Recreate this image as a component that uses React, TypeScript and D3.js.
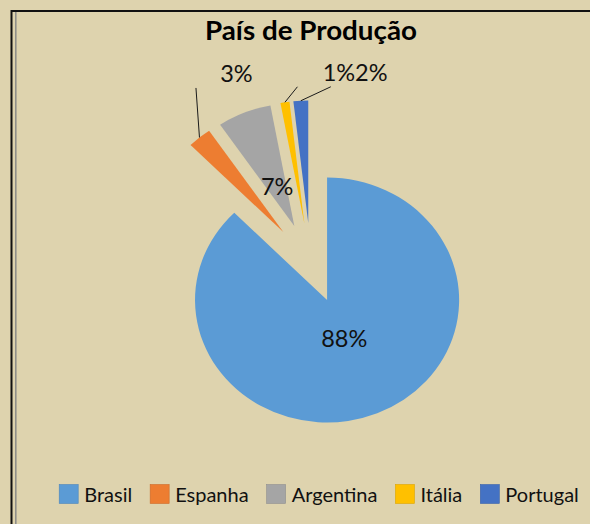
import React, { useEffect, useRef } from 'react';
import * as d3 from 'd3';

const title = 'País de Produção';
const categories = ['Brasil', 'Espanha', 'Argentina', 'Itália', 'Portugal'];
const shares = [87.6, 2.9, 6.6, 1.1, 1.8];
const colors = ['#5b9bd5', '#ed7d31', '#a5a5a5', '#ffc000', '#4472c4'];

// labels that were dragged out of the pie, with a leader line
// [leader end dx, dy, label dx, baseline dy] from the slice's outer edge midpoint
const outsideLabels: Record<string, number[]> = {
  Espanha: [-3.5, -49.5, 37, -55.5],
  'Itália': [12.5, -15.5, 54, -21],
  Portugal: [30, -14, 70.5, -19.5],
};

const FONT = 'Lato, "Open Sans", sans-serif';

export default function App() {
  const svgRef = useRef<SVGSVGElement>(null);

  useEffect(() => {
    const w = 590;
    const h = 524;
    const svg = d3.select(svgRef.current).attr('width', w).attr('height', h);
    svg.selectAll('*').remove();

    svg.append('rect').attr('width', w).attr('height', h).attr('fill', '#ded3ae');

    // frame of the chart (only the left and top edges are in view)
    svg.append('path').attr('d', 'M11.5,524V11H590').attr('fill', 'none').attr('stroke', '#111').attr('stroke-width', 2);
    svg.append('line').attr('x1', 15.8).attr('x2', 15.8).attr('y1', 12).attr('y2', h)
      .attr('stroke', '#8f8f8a').attr('stroke-width', 1.6);

    svg.append('text')
      .attr('x', 311).attr('y', 40)
      .attr('text-anchor', 'middle')
      .attr('font-family', FONT).attr('font-weight', 700).attr('font-size', 26)
      .attr('textLength', 212).attr('lengthAdjust', 'spacingAndGlyphs')
      .attr('fill', '#000')
      .text(title);

    // pie (the picture is slightly stretched horizontally)
    const cx = 310.7;
    const cy = 263;
    const r = 122.5;
    const sx = 1.078;
    const explode = 40;
    const total = d3.sum(shares);
    const pct = d3.format('.0%');

    const pt = (a: number, rad: number) => [Math.sin(a) * rad * sx, -Math.cos(a) * rad];

    const pie = d3.pie<number>().sort(null).value(d => d);
    const arcs = pie(shares);
    const arc = d3.arc<d3.PieArcDatum<number>>().innerRadius(0).outerRadius(r);

    const slices = svg.append('g');
    arcs.forEach((a, i) => {
      const mid = (a.startAngle + a.endAngle) / 2;
      const [ex, ey] = pt(mid, explode);
      const ax = cx + ex;
      const ay = cy + ey;
      slices.append('path')
        .attr('transform', `translate(${ax},${ay}) scale(${sx},1)`)
        .attr('d', arc(a))
        .attr('fill', colors[i]);

      const label = pct(shares[i] / total);
      const out = outsideLabels[categories[i]];
      if (out) {
        const [ox, oy] = pt(mid, r);
        const mx = ax + ox;
        const my = ay + oy;
        svg.append('line')
          .attr('x1', mx).attr('y1', my)
          .attr('x2', mx + out[0]).attr('y2', my + out[1])
          .attr('stroke', '#1a1a1a').attr('stroke-width', 1);
        svg.append('text')
          .attr('x', mx + out[2]).attr('y', my + out[3])
          .attr('text-anchor', 'middle')
          .attr('font-family', FONT).attr('font-size', 23.5).attr('fill', '#111')
          .text(label);
      } else {
        const [lx, ly] = pt(mid, 42);
        svg.append('text')
          .attr('x', ax + lx).attr('y', ay + ly)
          .attr('dy', '0.35em')
          .attr('text-anchor', 'middle')
          .attr('font-family', FONT).attr('font-size', 23.5).attr('fill', '#111')
          .text(label);
      }
    });

    // legend
    const sq = 19;
    const legend = svg.append('g');
    const items = categories.map((c, i) => {
      const g = legend.append('g');
      g.append('rect').attr('y', 484.5).attr('width', sq).attr('height', sq)
        .attr('fill', colors[i]).attr('stroke', d3.color(colors[i])!.darker(0.4).toString()).attr('stroke-width', 0.6);
      const t = g.append('text').attr('x', sq + 6).attr('y', 501.5)
        .attr('font-family', FONT).attr('font-size', 20).attr('fill', '#111')
        .text(c);
      return { g, width: sq + 6 + (t.node() as SVGTextElement).getComputedTextLength() };
    });
    const gap = 18;
    const totalW = d3.sum(items, d => d.width) + gap * (items.length - 1);
    let x = 319 - totalW / 2;
    items.forEach(it => {
      it.g.attr('transform', `translate(${x},0)`);
      x += it.width + gap;
    });
  }, []);

  return (
    <svg ref={svgRef} style={{ position: 'absolute', left: 0, top: 0, display: 'block' }}></svg>
  );
}
